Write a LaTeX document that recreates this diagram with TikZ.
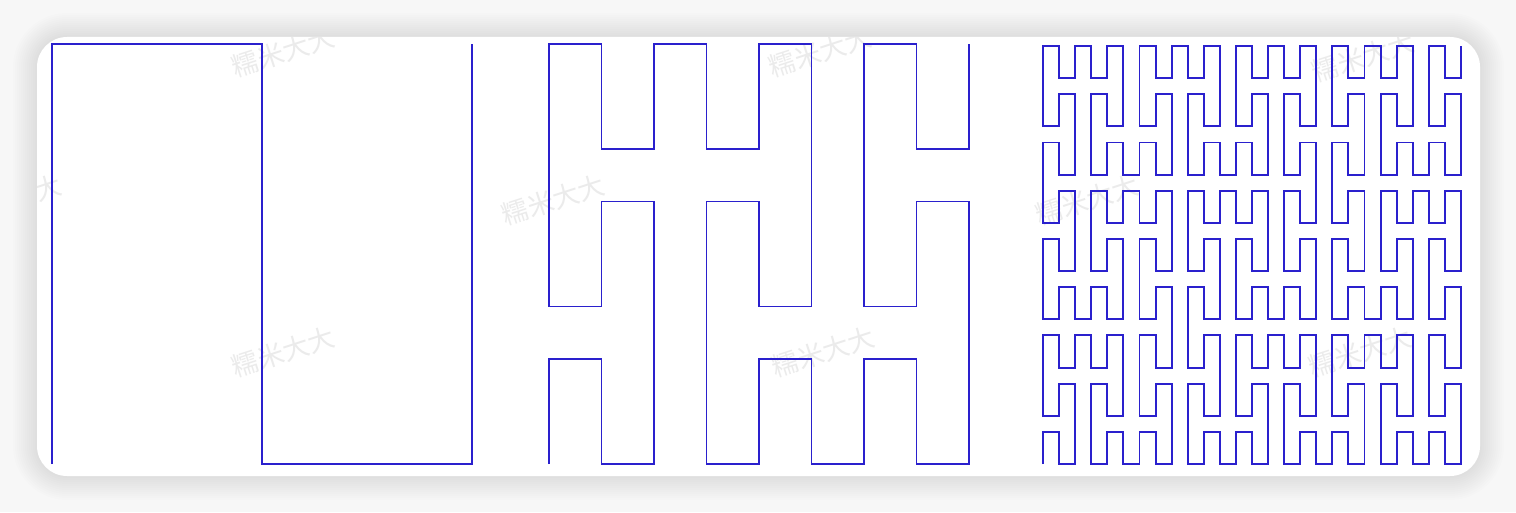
\documentclass[tikz,border=0pt]{standalone}
\usepackage{fontspec}
\newfontfamily\cjkfont{Noto Sans CJK SC}
\usetikzlibrary{lindenmayersystems}

\definecolor{peanoblue}{RGB}{42,32,205}

\pgfdeclarelindenmayersystem{peano}{
    \rule{X -> XFYFX-F-YFXFY+F+XFYFX}
    \rule{Y -> YFXFY+F+XFYFX-F-YFXFY}
}

\begin{document}
\begin{tikzpicture}[
        curve/.style={draw=peanoblue, line width=1.1pt},
        wmark/.style={text=black!8, rotate=18, inner sep=0pt, font=\cjkfont\fontsize{15}{15}\selectfont},
        card/.style={rounded corners=0.6cm}
    ]
    \useasboundingbox[fill=black!3] (0,0) rectangle (30.32,10.24);
    \foreach \i [evaluate=\i as \d using 0.04*\i, evaluate=\i as \r using 0.6+0.04*\i] in {1,...,12}
        \fill[black, opacity=0.008, rounded corners=\r cm] (0.74-\d,0.72-\d) rectangle (29.6+\d,9.5+\d);
    \fill[white, card] (0.74,0.72) rectangle (29.6,9.5);

    \begin{scope}
        \clip[card] (0.74,0.72) rectangle (29.6,9.5);
        \foreach \x/\y [count=\k] in {5.66/3.2, 16.46/3.2, 27.2/3.2, 5.66/9.2, 16.4/9.2, 27.26/9.1, 0.2/6.24, 11.06/6.24, 21.74/6.24}
            \node[wmark] (wm\k) at (\x,\y) {糯米大大};
    \end{scope}

    \begin{scope}[shift={(1.04,0.96)}]
        \draw[curve, l-system={peano, axiom=+X, order=1, step=4.2cm, angle=90}] lindenmayer system;
    \end{scope}
    \begin{scope}[shift={(10.98,0.96)}]
        \draw[curve, l-system={peano, axiom=+X, order=2, step=1.05cm, angle=90}] lindenmayer system;
    \end{scope}
    \begin{scope}[shift={(20.86,0.96)}]
        \draw[curve, l-system={peano, axiom=+X, order=3, step=0.3215cm, angle=90}] lindenmayer system;
    \end{scope}
\end{tikzpicture}
\end{document}
